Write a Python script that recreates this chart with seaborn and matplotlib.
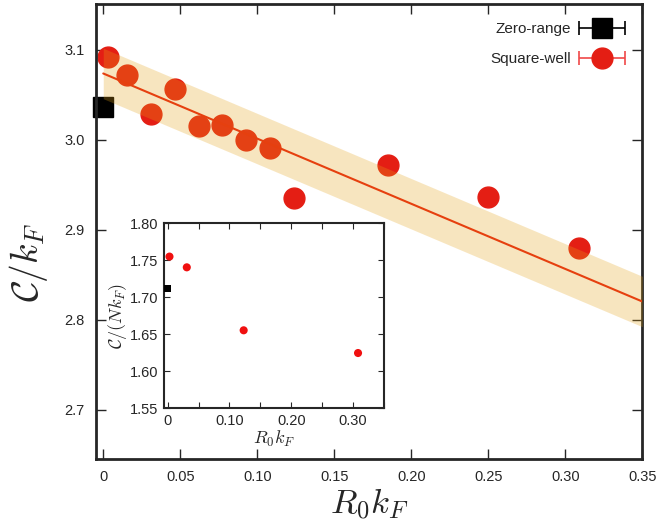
import numpy as np
import seaborn as sns
import matplotlib
matplotlib.use('Agg')
import matplotlib.pyplot as plt
from matplotlib.container import ErrorbarContainer
from matplotlib.legend_handler import HandlerErrorbar

sns.set_style('ticks')
plt.rcParams['font.family'] = ['Liberation Sans', 'DejaVu Sans']
plt.rcParams['mathtext.fontset'] = 'cm'

# square-well results (main panel)
sw_x = [0.0029, 0.0156, 0.031, 0.0466, 0.0621, 0.0773, 0.0927, 0.1084, 0.1236, 0.185, 0.250, 0.309]
sw_y = [3.0915, 3.0712, 3.028, 3.0565, 3.015, 3.016, 2.999, 2.991, 2.9347, 2.972, 2.936, 2.880]
# zero-range result
zr_x = [0.0]
zr_y = [3.036]
# linear fit and its band
fit_x = [0.0, 0.35]
fit_y = [3.0734, 2.8202]
fit_lo = [3.0454, 2.7922]
fit_hi = [3.1014, 2.8482]

# inset values
ins_sw_x = [0.003, 0.031, 0.123, 0.308]
ins_sw_y = [1.755, 1.7405, 1.6554, 1.6247]
ins_zr_x = [0.0]
ins_zr_y = [1.712]

main_xticks = [0, 0.05, 0.10, 0.15, 0.20, 0.25, 0.30, 0.35]
main_xlabels = ['0', '0.05', '0.10', '0.15', '0.20', '0.25', '0.30', '0.35']
main_yticks = [2.7, 2.8, 2.9, 3.0, 3.1]
main_ylabels = ['2.7', '2.8', '2.9', '3.0', '3.1']
ins_xticks = [0, 0.05, 0.10, 0.15, 0.20, 0.25, 0.30, 0.35]
ins_xlabels = ['0', '', '0.10', '', '0.20', '', '0.30', '']
ins_yticks = [1.55, 1.60, 1.65, 1.70, 1.75, 1.80]
ins_ylabels = ['1.55', '1.60', '1.65', '1.70', '1.75', '1.80']

red = '#e41e14'
fig = plt.figure(figsize=(6.59, 5.28), dpi=100)
ax = fig.add_axes([0.1457, 0.1301, 0.829, 0.8614])

ax.errorbar(zr_x, zr_y, xerr=0, fmt='s', color='k', ms=15, capsize=5,
            elinewidth=1.2, capthick=1.2, clip_on=False, zorder=2, label='Zero-range')
ax.errorbar(sw_x, sw_y, xerr=0, fmt='o', color=red, mec=red, ecolor='#f04848', ms=15,
            capsize=5, elinewidth=1.2, capthick=1.2, zorder=2, label='Square-well')
ax.fill_between(fit_x, fit_lo, fit_hi, color='#e5a114', alpha=0.27, lw=0, zorder=3)
sns.lineplot(x=fit_x, y=fit_y, ax=ax, color='#e6400f', lw=1.5, zorder=4)

ax.set_xlim(-0.0047, 0.35)
ax.set_ylim(2.645, 3.15)
ax.set_xticks(main_xticks)
ax.set_xticklabels(main_xlabels)
ax.set_yticks(main_yticks)
ax.set_yticklabels(main_ylabels)
ax.tick_params(direction='in', top=True, right=True, length=7, width=1, labelsize=10.5, pad=8)
for s in ax.spines.values():
    s.set_linewidth(2)
ax.set_xlabel(r'$R_0k_F$', fontsize=25, labelpad=1)
ax.set_ylabel(r'$\mathcal{C}/k_F$', fontsize=27)
ax.yaxis.set_label_coords(-0.084, 0.434)
ax.legend(loc='upper right', frameon=False, markerfirst=False, fontsize=11,
          handlelength=3.0, handletextpad=0.5, labelspacing=1.05, borderaxespad=0.75,
          handler_map={ErrorbarContainer: HandlerErrorbar(xerr_size=1.5)})

# inset
ins = fig.add_axes([0.2493, 0.2267, 0.3334, 0.3504])
sns.scatterplot(x=ins_sw_x, y=ins_sw_y, ax=ins, color='#f01010', s=34, edgecolor='none', zorder=3)
sns.scatterplot(x=ins_zr_x, y=ins_zr_y, ax=ins, color='k', marker='s', s=30, edgecolor='none',
                clip_on=False, zorder=3)
ins.set_xlim(-0.0054, 0.35)
ins.set_ylim(1.55, 1.80)
ins.set_xticks(ins_xticks)
ins.set_xticklabels(ins_xlabels)
ins.set_yticks(ins_yticks)
ins.set_yticklabels(ins_ylabels)
ins.tick_params(direction='in', top=True, right=True, length=4, width=0.8, labelsize=10.5, pad=4)
for s in ins.spines.values():
    s.set_linewidth(1.5)
ins.set_xlabel(r'$R_0k_F$', fontsize=13, labelpad=1)
ins.set_ylabel(r'$\mathcal{C}/(Nk_F)$', fontsize=13, labelpad=1)

fig.savefig('out.png', dpi=100)
